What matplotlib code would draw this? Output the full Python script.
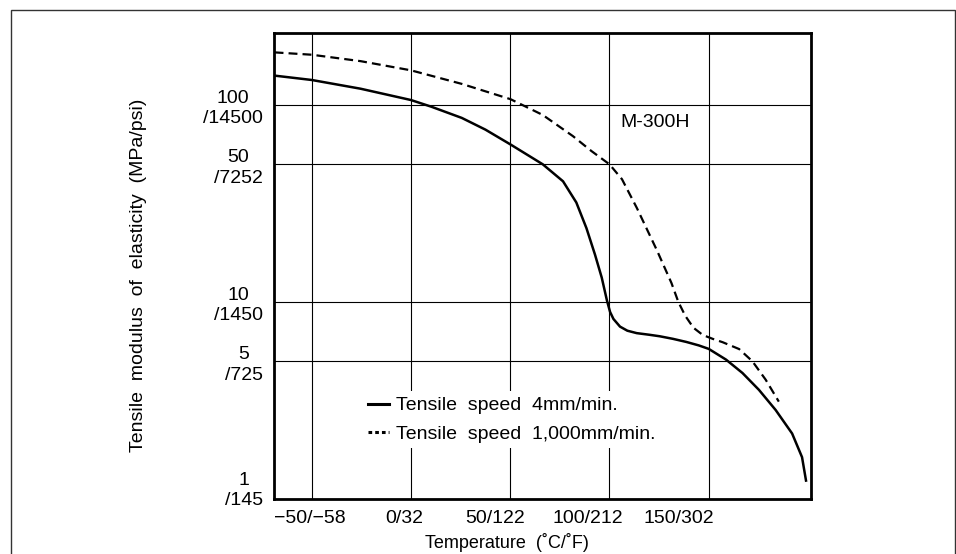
import matplotlib
matplotlib.use("Agg")
import matplotlib.pyplot as plt
import matplotlib.transforms as mtransforms
from matplotlib.lines import Line2D
from matplotlib.patches import Rectangle

plt.rcParams["font.family"] = ["Liberation Sans", "DejaVu Sans"]

# Tensile speed 4mm/min (solid)
temp_slow = [-68.7, -50, -25.4, 0, 10.3, 25.6, 37.5, 50.2, 66.4, 76.6, 83.3, 88.4,
             92.7, 96.1, 98.7, 100.3, 102, 105.3, 109, 113.7, 120, 125.3, 132,
             138.7, 145, 150, 158.7, 167, 175.3, 183.7, 192, 197, 199]
mod_slow = [141, 134, 121, 106, 98, 86, 75, 63, 50, 41, 32, 23.7,
            17.4, 13.3, 10.2, 8.9, 8.2, 7.5, 7.15, 6.95, 6.82, 6.7, 6.5,
            6.27, 6.02, 5.78, 5.1, 4.36, 3.58, 2.83, 2.15, 1.63, 1.24]

# Tensile speed 1,000mm/min (dashed)
temp_fast = [-68.7, -50, -25.4, 0, 25.6, 50.2, 66.4, 81.6, 90.9, 100, 106.3, 113.8,
             124, 131.2, 134.7, 138.2, 142.3, 147, 152, 157, 165.3, 172, 178.7, 185.3]
mod_fast = [185, 180, 167, 150, 128, 107, 89, 69.5, 58.4, 50, 42, 30,
            18.2, 12.5, 10, 8.5, 7.4, 6.8, 6.5, 6.25, 5.77, 5.0, 4.03, 3.12]

x_ticks = [-50, 0, 50, 100, 150]
x_labels = ["\u221250/\u221258", "0/32", "50/122", "100/212", "150/302"]
y_ticks = [1, 5, 10, 50, 100]
y_labels = ["1\n/145", "5\n/725", "10\n/1450", "50\n/7252", "100\n/14500"]

fig = plt.figure(figsize=(9.56, 5.54), dpi=100)
ax = fig.add_axes([0.2866, 0.0993, 0.5617, 0.8411])

# outer frame of the page
fig.patches.append(Rectangle((11 / 956, -0.05), 944 / 956, 1 - 10 / 554 + 0.05,
                             transform=fig.transFigure, fill=False,
                             edgecolor="#333333", lw=1.0))

ax.plot(temp_slow, mod_slow, color="black", lw=1.8, zorder=3)
ax.plot(temp_fast, mod_fast, color="black", lw=1.6, linestyle=(0, (4, 2.3)), zorder=3)

ax.set_yscale("log")
ax.set_xlim(-69, 201.5)
ax.set_ylim(1, 232)

ax.set_xticks(x_ticks)
ax.set_xticklabels(x_labels, fontsize=14)
ax.set_yticks(y_ticks)
ax.set_yticklabels(y_labels, fontsize=14, multialignment="center", linespacing=1.25)
ax.yaxis.set_minor_locator(matplotlib.ticker.NullLocator())
ax.tick_params(length=0, pad=8)

# the printed x labels drift left of their grid lines
for lab, dx in zip(ax.get_xticklabels(), [-2, -7, -15, -22, -30]):
    lab.set_transform(lab.get_transform() + mtransforms.ScaledTranslation(dx / 100, 0, fig.dpi_scale_trans))
# lowest y label sits a little above the bottom spine
ylab0 = ax.get_yticklabels()[0]
ylab0.set_transform(ylab0.get_transform() + mtransforms.ScaledTranslation(0, 0.12, fig.dpi_scale_trans))

ax.grid(True, which="major", color="black", lw=0.8)
for sp in ax.spines.values():
    sp.set_linewidth(2.0)

ax.set_xlabel("Temperature  (\u02daC/\u02daF)", fontsize=13)
ax.xaxis.set_label_coords(0.434, -0.074)
ax.set_ylabel("Tensile  modulus  of  elasticity  (MPa/psi)", fontsize=14)
ax.yaxis.set_label_coords(-0.237, 0.479)

ax.text(0.709, 0.809, "M-300H", transform=ax.transAxes, fontsize=14,
        ha="center", va="center")

handles = [Line2D([], [], color="black", lw=2.2),
           Line2D([], [], color="black", lw=2.2, linestyle=(0, (1.2, 1.0)))]
leg = ax.legend(handles, ["Tensile  speed  4mm/min.", "Tensile  speed  1,000mm/min."],
                loc="upper left", bbox_to_anchor=(0.165, 0.232), fontsize=14,
                frameon=True, framealpha=1, facecolor="white", edgecolor="none",
                handlelength=1.05, handletextpad=0.35, labelspacing=0.55,
                borderpad=0.3, borderaxespad=0, fancybox=False)
leg.set_zorder(4)

fig.savefig("out.png", dpi=100)
